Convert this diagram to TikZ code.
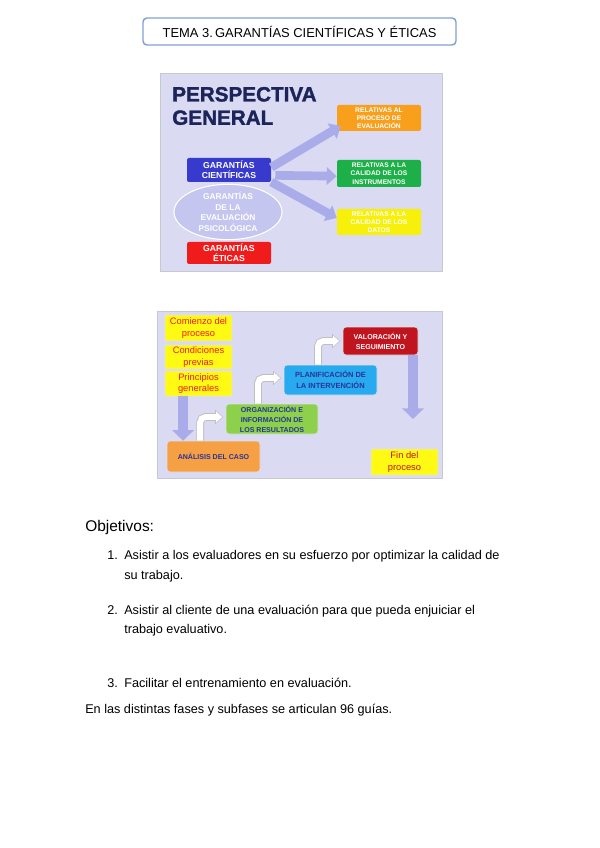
\documentclass[tikz,border=0pt]{standalone}
\usepackage{fontspec}
\setmainfont{Liberation Sans}
\newfontfamily\heavyfont{Liberation Sans}[BoldFeatures={FakeBold=1.6}]
\usetikzlibrary{positioning,calc,arrows.meta,shapes.geometric}

\definecolor{lav}{RGB}{218,218,243}
\definecolor{lavarrow}{RGB}{170,172,234}
\definecolor{navy}{RGB}{28,36,90}
\definecolor{ink}{RGB}{40,52,150}
\definecolor{orangeA}{RGB}{248,160,28}
\definecolor{greenA}{RGB}{30,176,72}
\definecolor{yellowA}{RGB}{246,240,10}
\definecolor{blueA}{RGB}{56,58,206}
\definecolor{redA}{RGB}{240,28,28}
\definecolor{ellA}{RGB}{196,198,240}
\definecolor{yellowB}{RGB}{255,250,20}
\definecolor{orangeB}{RGB}{246,160,70}
\definecolor{greenB}{RGB}{140,208,76}
\definecolor{blueB}{RGB}{40,170,240}
\definecolor{redB}{RGB}{192,20,30}
\definecolor{frameC}{RGB}{200,200,210}
\definecolor{titleC}{RGB}{130,160,215}

\newcommand{\gnode}[6]{\node [#5, minimum width=#3*0.75pt, minimum height=#4*0.75pt] (#1) at (#2) {#6}}

\tikzset{
  slide/.style={rectangle, rounded corners=1.5pt, align=center, inner sep=0.5pt,
    font=\bfseries\fontsize{5}{6.2}\selectfont, text=white},
  step2/.style={rectangle, rounded corners=2.5pt, align=center, inner sep=0.5pt,
    draw=black!12, line width=0.4pt, font=\bfseries\fontsize{5.3}{7.5}\selectfont, text=ink},
  note/.style={rectangle, rounded corners=1pt, align=center, inner sep=0.5pt, fill=yellowB,
    draw=black!10, line width=0.4pt, font=\fontsize{7}{8.6}\selectfont, text=redA},
  fat/.style={draw=lavarrow, line width=6.5pt, -{Triangle[width=13pt,length=7.5pt]}},
  drop/.style={draw=lavarrow, line width=7.5pt, -{Triangle[width=16pt,length=8pt]}},
  bendback/.style={draw=black!25, line width=5.8pt, rounded corners=4pt,
    -{Triangle[width=10.5pt,length=6pt]}, shorten >=2pt},
  bendfront/.style={draw=white, line width=4.4pt, rounded corners=4pt,
    -{Triangle[width=8pt,length=4.6pt]}, shorten >=2.7pt},
  body/.style={anchor=base west, inner sep=0pt, font=\fontsize{9.5}{11}\selectfont}
}

\begin{document}
\begin{tikzpicture}[x=0.75pt, y=-0.75pt]

\useasboundingbox (0,0) rectangle (599,848);

\node [draw=titleC, line width=1.1pt, rounded corners=3pt, minimum width=313*0.75pt,
  minimum height=27*0.75pt, font=\fontsize{9.7}{10}\selectfont] (TITLE) at (299.5,31.5)
  {TEMA 3.\,GARANTÍAS CIENTÍFICAS Y ÉTICAS};

% perspectiva general
\draw [draw=frameC, fill=lav, line width=0.5pt] (160,73) rectangle (442,271);
\node [anchor=west, align=left, inner sep=0pt, text=navy,
  font=\heavyfont\bfseries\fontsize{15.5}{17.5}\selectfont] (PG) at (172,106) {PERSPECTIVA\\GENERAL};

\gnode{PROC}{379,118}{84}{26}{slide, fill=orangeA}{RELATIVAS AL\\PROCESO DE\\EVALUACIÓN};
\gnode{INST}{379,173.5}{84}{27}{slide, fill=greenA}{RELATIVAS A LA\\CALIDAD DE LOS\\INSTRUMENTOS};
\gnode{DATA}{379,222}{84}{26}{slide, fill=yellowA}{RELATIVAS A LA\\CALIDAD DE LOS\\DATOS};
\gnode{CIEN}{229,170}{84}{24}{slide, fill=blueA, font=\bfseries\fontsize{6.5}{7.6}\selectfont}{GARANTÍAS\\CIENTÍFICAS};
\gnode{EVAL}{228,212}{108}{47}{ellipse, fill=ellA, draw=white, line width=0.8pt, align=center,
  inner sep=0pt, text=white, font=\bfseries\fontsize{6.3}{7.9}\selectfont}{GARANTÍAS\\DE LA\\EVALUACIÓN\\PSICOLÓGICA};
\gnode{ETIC}{229,253}{84}{22}{slide, fill=redA, font=\bfseries\fontsize{6.5}{7.6}\selectfont}{GARANTÍAS\\ÉTICAS};

\draw [fat] ([yshift=2pt]CIEN.east) -- ([xshift=3pt,yshift=4pt]PROC.south west);
\draw [fat] ([xshift=3pt,yshift=-4pt]CIEN.east) -- ([yshift=-2pt]INST.west);
\draw [fat] ([yshift=-9pt]CIEN.east) -- ([yshift=3pt]DATA.west);

% fases del proceso
\draw [draw=frameC, fill=lav, line width=0.5pt] (157,311) rectangle (442,478);

\gnode{COM}{198.5,328}{67}{26}{note}{Comienzo del\\proceso};
\gnode{CON}{198.5,357}{67}{24}{note}{Condiciones\\previas};
\gnode{PRI}{198.5,383.5}{67}{25}{note}{Principios\\generales};
\gnode{ANA}{213.5,456.5}{93}{31}{step2, fill=orangeB}{ANÁLISIS DEL CASO};
\gnode{ORG}{272,419}{92}{30}{step2, fill=greenB}{ORGANIZACIÓN E\\INFORMACIÓN DE\\LOS RESULTADOS};
\gnode{PLA}{330.5,380}{93}{30}{step2, fill=blueB, font=\bfseries\fontsize{5.6}{8.2}\selectfont}{PLANIFICACIÓN DE\\LA INTERVENCIÓN};
\gnode{VAL}{380.5,341}{75}{28}{step2, fill=redB, text=white}{VALORACIÓN Y\\SEGUIMIENTO};
\gnode{FIN}{404.5,462}{67}{26}{note, text=redB}{Fin del\\proceso};
\coordinate (END) at (413,419);

\draw [drop] ([xshift=-11.6pt]PRI.south) -- ([xshift=-11.6pt]PRI.south |- ANA.north);
\draw [drop] (END |- VAL.south) -- (END);

\draw [bendback] ([xshift=-10pt]ANA.north) |- ([yshift=1.5pt]ORG.west);
\draw [bendfront] ([xshift=-10pt]ANA.north) |- ([yshift=1.5pt]ORG.west);
\draw [bendback] ([xshift=-10.5pt]ORG.north) |- ([yshift=1.5pt]PLA.west);
\draw [bendfront] ([xshift=-10.5pt]ORG.north) |- ([yshift=1.5pt]PLA.west);
\draw [bendback] ([xshift=-9.4pt]PLA.north) |- (VAL.west);
\draw [bendfront] ([xshift=-9.4pt]PLA.north) |- (VAL.west);

% objetivos
\node [body, font=\fontsize{11.6}{13}\selectfont] (OBJ) at (85,531) {Objetivos:};
\node [body] (N1) at (107,559) {1.};
\node [body] (T1) at (124,559) {Asistir a los evaluadores en su esfuerzo por optimizar la calidad de};
\node [body] (T1b) at (124,579) {su trabajo.};
\node [body] (N2) at (107,614) {2.};
\node [body] (T2) at (124,614) {Asistir al cliente de una evaluación para que pueda enjuiciar el};
\node [body] (T2b) at (124,633) {trabajo evaluativo.};
\node [body] (N3) at (107,687) {3.};
\node [body] (T3) at (124,687) {Facilitar el entrenamiento en evaluación.};
\node [body] (FIN2) at (85,713) {En las distintas fases y subfases se articulan 96 guías.};

\end{tikzpicture}
\end{document}
